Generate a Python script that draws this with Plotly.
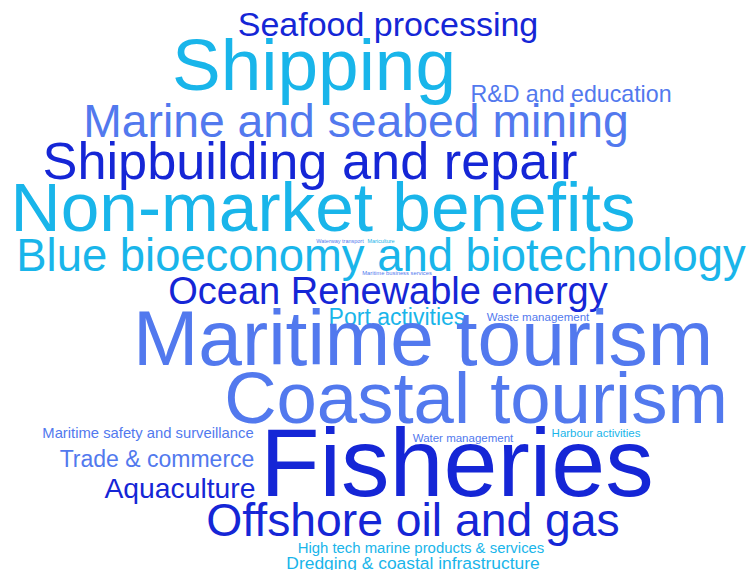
import plotly.graph_objects as go

# Word cloud data: term, weight (font size), colour group
words = [
    "Seafood processing", "Shipping", "R&D and education", "Marine and seabed mining",
    "Shipbuilding and repair", "Non-market benefits", "Blue bioeconomy and biotechnology",
    "Waterway transport", "Mariculture", "Maritime business services",
    "Ocean Renewable energy", "Port activities", "Waste management", "Maritime tourism",
    "Coastal tourism", "Maritime safety and surveillance", "Water management",
    "Harbour activities", "Trade & commerce", "Fisheries", "Aquaculture",
    "Offshore oil and gas", "High tech marine products & services",
    "Dredging & coastal infrastructure",
]
weights = [34, 73, 23.2, 46.3, 52.3, 69.4, 45.4, 5.5, 5.5, 5.8, 38, 23, 11.5, 78.5, 72.5,
           14.8, 11.5, 11.5, 23, 97, 28.3, 46.3, 14.9, 17.4]
groups = ["dark", "cyan", "mid", "mid", "dark", "cyan", "cyan", "mid", "cyan", "mid",
          "dark", "cyan", "mid", "mid", "mid", "mid", "mid", "cyan", "mid", "dark",
          "dark", "dark", "cyan", "cyan"]

# layout positions of the cloud (pixel space): horizontal centre and text baseline
pos_x = [380, 306, 563, 348, 302, 315, 373, 332, 373, 389, 380, 389, 530, 415, 468,
         140, 455, 588, 149, 449, 172, 405, 413, 405]
pos_base = [31, 89, 96, 134, 176, 230, 268, 236, 236, 268, 300, 319, 314, 365, 422,
            431, 435, 430, 461, 498, 493, 533, 546, 563]

palette = {"dark": "#1526d6", "cyan": "#19b5ea", "mid": "#5279ee"}

ys = [b - 0.35 * w for b, w in zip(pos_base, weights)]

fig = go.Figure(go.Scatter(
    x=pos_x, y=ys, mode="text", text=words,
    textposition="middle center",
    textfont=dict(family="Arial, Liberation Sans, sans-serif",
                  size=weights, color=[palette[g] for g in groups]),
    hoverinfo="text",
))
fig.update_layout(
    width=755, height=570, margin=dict(l=0, r=0, t=0, b=0),
    paper_bgcolor="white", plot_bgcolor="white", showlegend=False,
    xaxis=dict(range=[0, 755], visible=False, fixedrange=True),
    yaxis=dict(range=[570, 0], visible=False, fixedrange=True),
)
fig.write_html("out.html")
